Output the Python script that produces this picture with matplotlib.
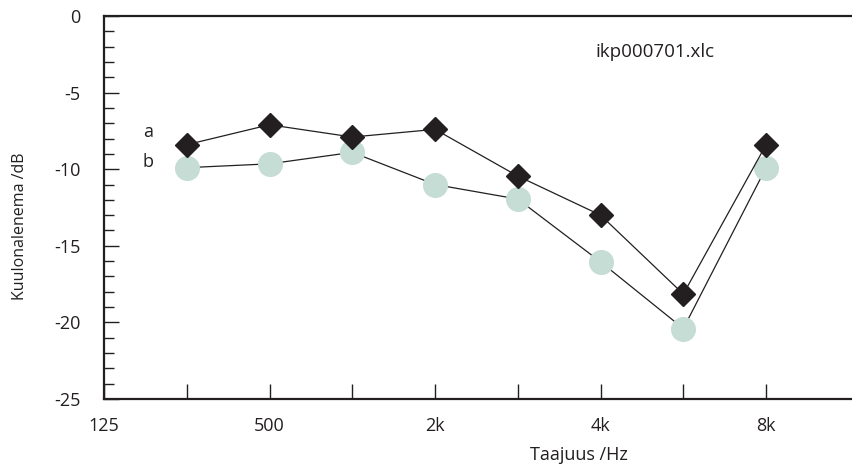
import numpy as np
import matplotlib.pyplot as plt

plt.rcParams['font.family'] = ['Open Sans', 'DejaVu Sans']
plt.rcParams['axes.unicode_minus'] = False

# taajuudet (Hz) tasavalein x-akselilla
freqs = ['250', '500', '1k', '2k', '3k', '4k', '6k', '8k']
tick_labels = ['125', '500', '2k', '4k', '8k']
tick_pos = [0, 2, 4, 6, 8]

# kuulonalenema /dB luettu kuvasta
loss_a = [-8.4, -7.1, -7.9, -7.4, -10.45, -13.0, -18.15, -8.4]
loss_b = [-9.9, -9.65, -8.9, -11.0, -11.95, -16.05, -20.4, -9.9]

x = np.arange(1, len(freqs) + 1)
ink = '#231f20'

fig = plt.figure(figsize=(8.53, 4.71), dpi=100)
ax = fig.add_axes([104 / 853, 1 - 399 / 471, 749 / 853, 383 / 471])

ax.plot(x, loss_b, color=ink, lw=0.9, marker='o', markersize=17,
        markerfacecolor='#c5ddd5', markeredgecolor='#c5ddd5', zorder=2)
ax.plot(x, loss_a, color=ink, lw=0.9, marker='D', markersize=12,
        markerfacecolor=ink, markeredgecolor=ink, zorder=3)

ax.text(0.53, -7.55, 'a', fontsize=13, color=ink, ha='center', va='center')
ax.text(0.53, -9.5, 'b', fontsize=13, color=ink, ha='center', va='center')
ax.text(6.66, -2.35, 'ikp000701.xlc', fontsize=13.5, color=ink, ha='center', va='center')

ax.set_xlim(0, 9.05)
ax.set_ylim(-25, 0)

ax.set_xticks(tick_pos)
ax.set_xticklabels(tick_labels)
ax.set_xticks([1, 3, 5, 7], minor=True)
ax.set_yticks(np.arange(-25, 1, 5))
ax.set_yticks(np.arange(-25, 1, 1), minor=True)

ax.tick_params(axis='x', which='both', direction='in', length=11, width=1,
               pad=13, labelsize=13, colors=ink)
ax.tick_params(axis='y', which='major', direction='in', length=11, width=1,
               pad=17, labelsize=13, colors=ink)
ax.tick_params(axis='y', which='minor', direction='in', length=7.5, width=1, colors=ink)

for side in ['left', 'bottom', 'top']:
    ax.spines[side].set_linewidth(1.6)
    ax.spines[side].set_color(ink)
ax.spines['right'].set_visible(False)

ax.set_xlabel('Taajuus /Hz', fontsize=13, color=ink)
ax.set_ylabel('Kuulonalenema /dB', fontsize=11.5, color=ink)
ax.xaxis.set_label_coords(0.634, -0.122)
ax.yaxis.set_label_coords(-0.101, 0.452)

plt.savefig('out.png', dpi=100)
